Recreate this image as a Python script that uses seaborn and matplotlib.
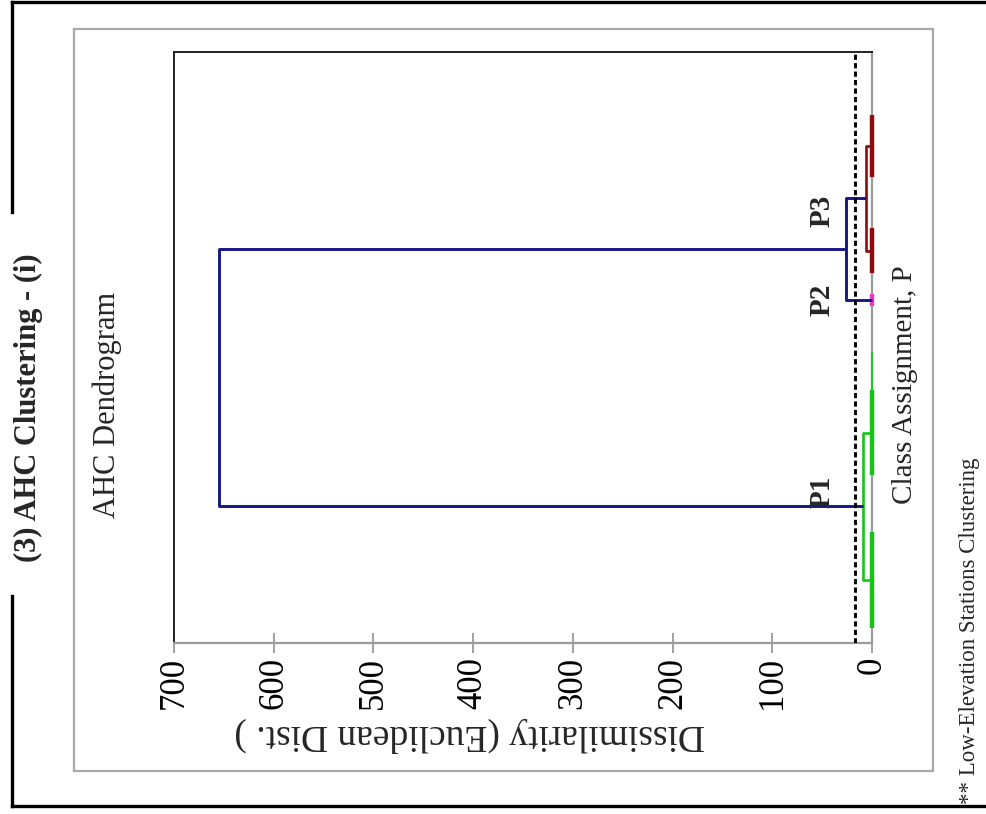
import numpy as np
import pandas as pd
import matplotlib
matplotlib.use("Agg")
import matplotlib.pyplot as plt
from matplotlib.lines import Line2D
import seaborn as sns

# ---- dendrogram data -------------------------------------------------------
# fusion heights (Euclidean dissimilarity)
root_height = 655
p2p3_height = 26
p3_inner_height = 6
p1_inner_height = 9
truncation_level = 17

# terminal groups along the leaf axis (stations fused at ~0 dissimilarity)
group_class = ["P3", "P3", "P2", "P1", "P1"]
group_start = [10.7, 29.8, 40.9, 57.2, 81.2]
group_end = [21.2, 37.4, 42.9, 71.6, 97.5]
# loose strand of P1 stations fused at exactly zero
p1_strand = [50.8, 57.2]

class_labels = ["P1", "P2", "P3"]
class_label_pos = [74.5, 42.0, 26.9]
class_label_height = 50

xticks = [0, 100, 200, 300, 400, 500, 600, 700]

class_colors = {"P1": "#16C416", "P2": "#E23DC4", "P3": "#8E0B0B"}
link_color = "#16168A"

W, H, DPI = 986, 814, 100
SERIF = ["Liberation Serif", "DejaVu Serif"]

sns.set_theme(style="white")
plt.rcParams["font.family"] = SERIF

fig = plt.figure(figsize=(W / DPI, H / DPI), dpi=DPI)
fig.patch.set_facecolor("white")


def fx(x):
    return x / W


def fy(y):
    return 1 - y / H


ax = fig.add_axes([fx(174), fy(643), (872 - 174) / W, (643 - 52) / H])

# ---- build the link polylines ------------------------------------------------
centers = [(s + e) / 2 for s, e in zip(group_start, group_end)]
p3_node = (centers[0] + centers[1]) / 2
p1_node = (centers[3] + centers[4]) / 2
p2p3_node = (p3_node + centers[2]) / 2

rows = []


def add_path(name, kind, pts):
    for h, p in pts:
        rows.append({"seg": name, "kind": kind, "height": h, "pos": p})


# terminal groups drawn as thick strips at zero height
for i, (c, s, e) in enumerate(zip(group_class, group_start, group_end)):
    add_path(f"g{i}", c, [(0, s), (0, e)])
add_path("strand", "strand", [(0, p1_strand[0]), (0, p1_strand[1])])

# within-class fusions
add_path("p3", "P3", [(0, centers[0]), (p3_inner_height, centers[0]),
                      (p3_inner_height, centers[1]), (0, centers[1])])
add_path("p1", "P1", [(0, centers[3]), (p1_inner_height, centers[3]),
                      (p1_inner_height, centers[4]), (0, centers[4])])

# between-class fusions
add_path("p2p3", "link", [(p3_inner_height, p3_node), (p2p3_height, p3_node),
                          (p2p3_height, centers[2]), (0, centers[2])])
add_path("root", "link", [(p2p3_height, p2p3_node), (root_height, p2p3_node),
                          (root_height, p1_node), (p1_inner_height, p1_node)])

links = pd.DataFrame(rows)

line_kw = dict(x="height", y="pos", units="seg", estimator=None, sort=False,
               ax=ax, legend=False, solid_capstyle="butt")

for i, c in enumerate(group_class):
    sns.lineplot(data=links[links.seg == f"g{i}"], color=class_colors[c],
                 lw=3.2, **line_kw)
sns.lineplot(data=links[links.seg == "strand"], color=class_colors["P1"],
             lw=1.2, **line_kw)
for name, c in [("p3", "P3"), ("p1", "P1")]:
    sns.lineplot(data=links[links.seg == name], color=class_colors[c],
                 lw=1.9, **line_kw)
sns.lineplot(data=links[links.kind == "link"], color=link_color, lw=2.1,
             **line_kw)

for ln in ax.lines:
    ln.set_clip_on(False)
    ln.set_zorder(3)

# truncation level
ax.axvline(truncation_level, color="black", lw=2.1, ls=(0, (1.8, 1.1)),
           zorder=4)

# class labels
for lab, pos in zip(class_labels, class_label_pos):
    ax.text(class_label_height, pos, lab, rotation=90, ha="center",
            va="center", fontsize=21, fontweight="bold", family=SERIF)

# ---- axes styling ----------------------------------------------------------
ax.set_xlim(700, 0)
ax.set_ylim(100, 0)
ax.set_xticks(xticks)
ax.set_xticklabels([str(t) for t in xticks])
ax.set_yticks([])
ax.set_xlabel("")
ax.set_ylabel("")
ax.tick_params(axis="x", direction="inout", length=14, width=1.3,
               color="#9a9a9a", labelsize=25, pad=3, labelrotation=90,
               labelcolor="black", bottom=True)
for lab in ax.get_xticklabels():
    lab.set_family(SERIF)
for side in ("left", "top"):
    ax.spines[side].set_color("#222222")
    ax.spines[side].set_linewidth(1.4)
for side in ("right", "bottom"):
    ax.spines[side].set_color("#9a9a9a")
    ax.spines[side].set_linewidth(1.6)

# ---- texts around the plot -------------------------------------------------
fig.text(fx(470), fy(735), "Dissimilarity (Euclidean Dist. )", rotation=180,
         ha="center", va="center", fontsize=27, family=SERIF)
fig.text(fx(107), fy(405), "AHC Dendrogram", rotation=90, ha="center",
         va="center", fontsize=22, family=SERIF)
fig.text(fx(905), fy(385), "Class Assignment, P", rotation=90, ha="center",
         va="center", fontsize=21, family=SERIF)
fig.text(fx(969), fy(804), "** Low-Elevation Stations Clustering",
         rotation=90, ha="center", va="bottom", fontsize=16.5, family=SERIF)
title = fig.text(fx(28), fy(408), "(3) AHC Clustering - (i)", rotation=90,
                 ha="center", va="center", fontsize=22, fontweight="bold",
                 family=SERIF)

# ---- frames ----------------------------------------------------------------
# chart area border
fig.add_artist(plt.Rectangle((fx(74), fy(771)), (933 - 74) / W,
                             (771 - 29) / H, transform=fig.transFigure,
                             fill=False, ec="#a8a8a8", lw=1.6))

# outer panel frame, left edge broken around the panel title
fig.canvas.draw()
bb = title.get_window_extent(fig.canvas.get_renderer())
gap_top = H - bb.y1 - 42
gap_bot = H - bb.y0 + 34
frame_kw = dict(transform=fig.transFigure, color="black", lw=2.4,
                solid_capstyle="projecting")
fig.add_artist(Line2D([fx(12), fx(1000)], [fy(2), fy(2)], **frame_kw))
fig.add_artist(Line2D([fx(12), fx(1000)], [fy(806), fy(806)], **frame_kw))
fig.add_artist(Line2D([fx(12), fx(12)], [fy(2), fy(gap_top)], **frame_kw))
fig.add_artist(Line2D([fx(12), fx(12)], [fy(gap_bot), fy(806)], **frame_kw))

fig.savefig("out.png", dpi=DPI, facecolor="white")
